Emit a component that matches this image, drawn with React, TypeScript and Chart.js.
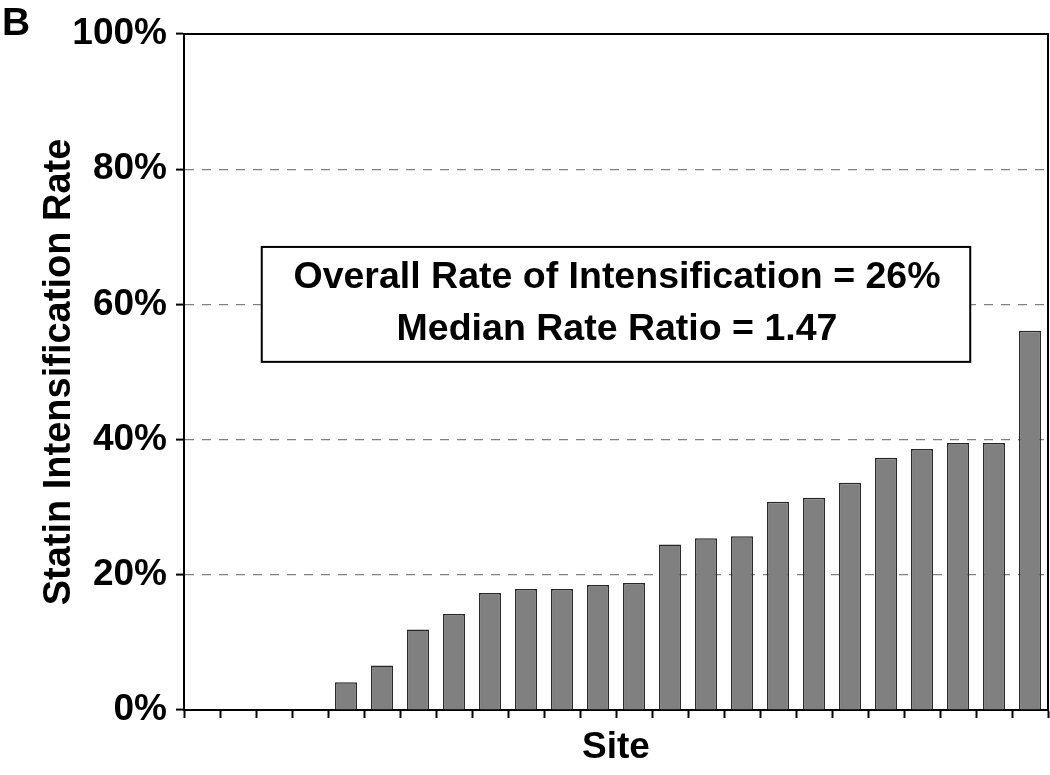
import React, { useEffect, useRef } from "react";
import { Chart, registerables } from "chart.js";

Chart.register(...registerables);

const FONT = "'Liberation Sans', Arial, sans-serif";

const sites: string[] = Array.from({ length: 24 }, (_, i) => `Site ${i + 1}`);
const intensificationRates: number[] = [
  0, 0, 0, 0, 4.1, 6.6, 11.9, 14.2, 17.3, 17.9, 17.9, 18.5, 18.8, 24.5, 25.4, 25.7,
  30.8, 31.4, 33.6, 37.3, 38.6, 39.5, 39.5, 56.1,
];
const yTickValues: number[] = [0, 20, 40, 60, 80, 100];
const annotationLines: string[] = [
  "Overall Rate of Intensification = 26%",
  "Median Rate Ratio = 1.47",
];
const panelLabel = "B";

const framePlugin = {
  id: "frameAndNotes",
  afterDatasetsDraw(chart: any) {
    const { ctx, chartArea, scales } = chart;
    const y = scales.y;
    ctx.save();
    // top & right frame
    ctx.strokeStyle = "#000";
    ctx.lineWidth = 2;
    ctx.beginPath();
    ctx.moveTo(chartArea.left, chartArea.top);
    ctx.lineTo(chartArea.right, chartArea.top);
    ctx.lineTo(chartArea.right, chartArea.bottom);
    ctx.stroke();

    // annotation box
    const w = chartArea.right - chartArea.left;
    const cx = (chartArea.left + chartArea.right) / 2;
    const bw = w * 0.82;
    const top = y.getPixelForValue(68.5);
    const bottom = y.getPixelForValue(51.5);
    ctx.fillStyle = "#fff";
    ctx.fillRect(cx - bw / 2, top, bw, bottom - top);
    ctx.strokeStyle = "#000";
    ctx.lineWidth = 2;
    ctx.strokeRect(cx - bw / 2, top, bw, bottom - top);
    ctx.fillStyle = "#000";
    ctx.font = `bold 37.5px ${FONT}`;
    ctx.textAlign = "center";
    ctx.textBaseline = "alphabetic";
    const midY = (top + bottom) / 2;
    ctx.fillText(annotationLines[0], cx + 1, midY - 16);
    ctx.fillText(annotationLines[1], cx + 1, midY + 36);

    // panel label
    ctx.textAlign = "left";
    ctx.font = `bold 39px ${FONT}`;
    ctx.fillText(panelLabel, 2, 35);
    ctx.restore();
  },
};

export default function App() {
  const canvasRef = useRef<HTMLCanvasElement | null>(null);

  useEffect(() => {
    if (!canvasRef.current) return;
    const chart = new Chart(canvasRef.current, {
      type: "bar",
      data: {
        labels: sites,
        datasets: [
          {
            data: intensificationRates,
            backgroundColor: "#808080",
            borderColor: "#262626",
            borderWidth: 1.5,
            barPercentage: 0.61,
            categoryPercentage: 1,
          },
        ],
      },
      options: {
        animation: false,
        responsive: true,
        maintainAspectRatio: false,
        layout: { padding: { top: 34, right: 2, left: 0, bottom: 0 } },
        plugins: {
          legend: { display: false },
          tooltip: { enabled: false },
        },
        scales: {
          x: {
            grid: {
              offset: true,
              drawOnChartArea: false,
              drawTicks: true,
              tickLength: 8,
              tickColor: "#000",
              tickWidth: 2,
            },
            border: { color: "#000", width: 2 },
            ticks: { callback: () => "", padding: 0 },
            title: {
              display: true,
              text: "Site",
              color: "#000",
              font: { family: FONT, size: 37, weight: "bold" },
              padding: { top: 0, bottom: 5 },
            },
            afterFit: (scale: any) => {
              scale.height = 65;
            },
          },
          y: {
            min: 0,
            max: 100,
            afterBuildTicks: (scale: any) => {
              scale.ticks = yTickValues.map((v) => ({ value: v }));
            },
            grid: {
              color: (ctx: any) =>
                ctx.tick && (ctx.tick.value === 0 || ctx.tick.value === 100)
                  ? "rgba(0,0,0,0)"
                  : "#808080",
              lineWidth: 1.2,
              tickLength: 8,
              tickColor: "#000",
              tickWidth: 2,
            },
            border: { color: "#000", width: 2, dash: [9, 8] },
            ticks: {
              color: "#000",
              padding: 9,
              font: { family: FONT, size: 37, weight: "bold" },
              callback: (v: any) => `${v}%`,
            },
            title: {
              display: true,
              text: "Statin Intensification Rate",
              color: "#000",
              font: { family: FONT, size: 38, weight: "bold" },
              padding: { top: 37, bottom: 0 },
            },
            afterFit: (scale: any) => {
              scale.width = 184;
            },
          },
        },
      },
      plugins: [framePlugin],
    });
    return () => chart.destroy();
  }, []);

  return (
    <div style={{ position: "fixed", left: 0, top: 0, width: 1050, height: 775, background: "#fff" }}>
      <canvas ref={canvasRef} />
    </div>
  );
}
